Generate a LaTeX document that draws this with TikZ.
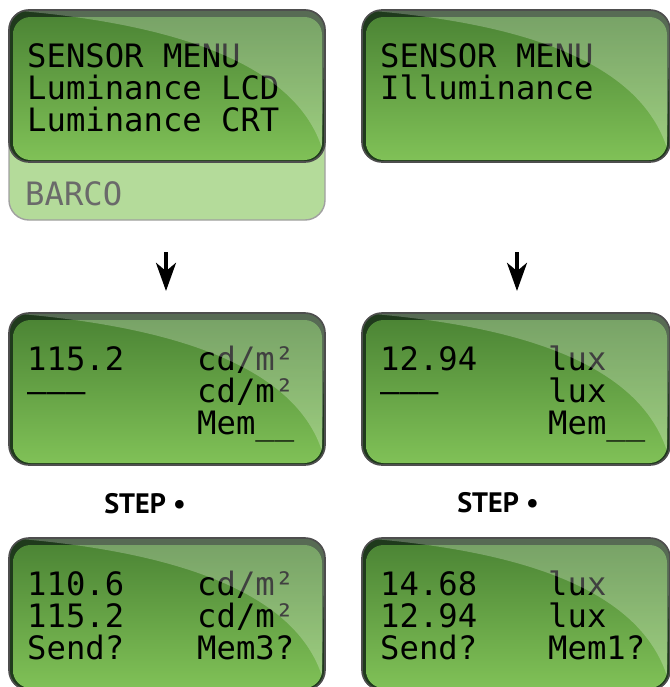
\documentclass[tikz,border=0pt]{standalone}
\usepackage{fontspec}
\usepackage{tikz}
\usetikzlibrary{arrows.meta}
\newfontfamily\lcdfont{DejaVu Sans Mono}
\newfontfamily\stepfont{PT Sans}

\definecolor{lcdtop}{HTML}{4C8535}
\definecolor{lcdbot}{HTML}{80C157}
\definecolor{lcdrim}{HTML}{1F3A1C}
\definecolor{lcdedge}{HTML}{4E4E4E}
\definecolor{trayfill}{HTML}{B4DB9A}
\definecolor{trayedge}{HTML}{A0A0A0}
\definecolor{traytext}{HTML}{6A6A6A}

\begin{document}
\begin{tikzpicture}[x=0.03cm, y=-0.03cm,
        lcd/.style={font=\lcdfont\fontsize{27.5}{30}\selectfont, inner sep=0pt, anchor=base west},
        steplabel/.style={font=\stepfont\bfseries\fontsize{24}{28}\selectfont, inner sep=0pt, anchor=base},
        flow/.style={-{Stealth[length=24pt, width=17pt, inset=7pt]}, line width=3.4pt}]

    \useasboundingbox (0,0) rectangle (670,687);
    \clip (0,0) rectangle (670,687);

    % Barco tray behind the first screen
    \draw[fill=trayfill, draw=trayedge, line width=1.2pt, rounded corners=17pt] (9,10) rectangle (325,220);
    \node[lcd, text=traytext] (barco) at (25,205) {BARCO};

    % screen bodies
    \foreach \x/\y/\w in {9/10/316, 362/10/308, 9/313/316, 362/313/308, 9/538/316, 362/538/308} {
        \begin{scope}[shift={(\x,\y)}]
            \fill[lcdrim, rounded corners=17pt] (0,0) rectangle (\w,152);
            \shade[top color=lcdtop, bottom color=lcdbot, rounded corners=15pt] (4,7) rectangle (\w-3,150);
        \end{scope}
    }

    % sensor menus
    \node[lcd] (lumHead) at (27,67) {SENSOR MENU};
    \node[lcd] (lumLcd) at (27,99) {Luminance LCD};
    \node[lcd] (lumCrt) at (27,131) {Luminance CRT};
    \node[lcd] (illHead) at (380,67) {SENSOR MENU};
    \node[lcd] (illItem) at (380,99) {Illuminance};

    % first reading
    \node[lcd] (lumVal) at (27,370) {115.2};
    \node[lcd] (lumPrev) at (27,402) {–––};
    \node[lcd] (lumUnitA) at (197,370) {cd/m²};
    \node[lcd] (lumUnitB) at (197,402) {cd/m²};
    \node[lcd] (lumMem) at (197,434) {Mem\_\_};
    \node[lcd] (illVal) at (380,370) {12.94};
    \node[lcd] (illPrev) at (380,402) {–––};
    \node[lcd] (illUnitA) at (548,370) {lux};
    \node[lcd] (illUnitB) at (548,402) {lux};
    \node[lcd] (illMem) at (548,434) {Mem\_\_};

    % after STEP
    \node[lcd] (lumNew) at (27,595) {110.6};
    \node[lcd] (lumOld) at (27,627) {115.2};
    \node[lcd] (lumSend) at (27,659) {Send?};
    \node[lcd] (lumUnitC) at (197,595) {cd/m²};
    \node[lcd] (lumUnitD) at (197,627) {cd/m²};
    \node[lcd] (lumSlot) at (197,659) {Mem3?};
    \node[lcd] (illNew) at (380,595) {14.68};
    \node[lcd] (illOld) at (380,627) {12.94};
    \node[lcd] (illSend) at (380,659) {Send?};
    \node[lcd] (illUnitC) at (548,595) {lux};
    \node[lcd] (illUnitD) at (548,627) {lux};
    \node[lcd] (illSlot) at (548,659) {Mem1?};

    % gloss and outline
    \foreach \x/\y/\w in {9/10/316, 362/10/308, 9/313/316, 362/313/308, 9/538/316, 362/538/308} {
        \begin{scope}[shift={(\x,\y)}]
            \begin{scope}
                \clip[rounded corners=17pt] (0,0) rectangle (\w,152);
                \fill[white, opacity=.25] (12,1) .. controls (170,15) and (\w-30,55) .. (\w-3,138) -- (\w,0) -- cycle;
            \end{scope}
            \draw[lcdedge, line width=1.4pt, rounded corners=17pt] (0,0) rectangle (\w,152);
        \end{scope}
    }

    % arrows and step labels
    \coordinate (lumDown) at (166,252);
    \coordinate (lumScreen) at (166,291);
    \coordinate (illDown) at (517,252);
    \coordinate (illScreen) at (517,291);
    \draw[flow] (lumDown) -- (lumScreen);
    \draw[flow] (illDown) -- (illScreen);

    \node[steplabel] (lumStep) at (145,513) {STEP •};
    \node[steplabel] (illStep) at (498,512) {STEP •};
\end{tikzpicture}
\end{document}
